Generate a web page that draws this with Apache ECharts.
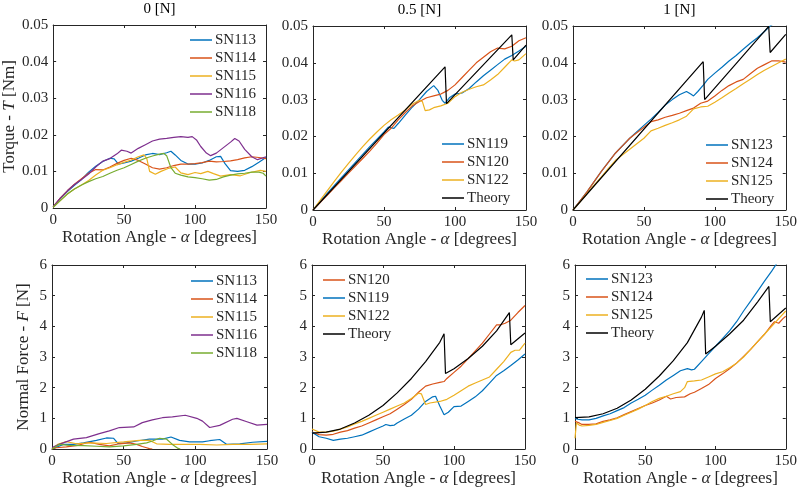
<!DOCTYPE html>
<html><head><meta charset="utf-8">
<script src="https://cdn.jsdelivr.net/npm/echarts@6/dist/echarts.min.js"></script>
<style>html,body{margin:0;padding:0;background:#fff}#c{width:800px;height:490px}</style>
</head><body><div id="c"></div><script>
// ---------- DATA ----------
const panelTitles = ['0 [N]', '0.5 [N]', '1 [N]'];
const xTicks = [0, 50, 100, 150];

// Panel 1: Torque, 0 N
const t0_113_x = [0,5,10,15,20,25,30,35,40,43,46,50,55,60,65,70,75,80,83,86,90,95,100,105,110,115,118,121,125,130,135,140,145,150];
const t0_113_y = [0.0003,0.0025,0.0045,0.0062,0.0078,0.0098,0.0114,0.0127,0.0136,0.0134,0.0120,0.0123,0.0128,0.0136,0.0145,0.0149,0.0146,0.0151,0.0155,0.0145,0.0130,0.0120,0.0120,0.0123,0.0130,0.0140,0.0141,0.0122,0.0102,0.0100,0.0103,0.0113,0.0125,0.0138];
const t0_114_x = [0,5,10,15,20,25,30,35,40,45,50,55,60,65,70,75,80,85,90,95,100,105,110,115,120,125,130,135,140,145,150];
const t0_114_y = [0.0003,0.0027,0.0047,0.0065,0.0080,0.0095,0.0105,0.0104,0.0112,0.0122,0.0130,0.0136,0.0130,0.0120,0.0110,0.0106,0.0110,0.0116,0.0120,0.0120,0.0121,0.0124,0.0128,0.0126,0.0127,0.0129,0.0132,0.0137,0.0140,0.0138,0.0135];
const t0_115_x = [0,5,10,15,20,25,30,35,40,45,50,55,60,64,66,68,72,76,81,86,90,95,100,104,109,113,118,125,132,139,146,150];
const t0_115_y = [0.0002,0.0020,0.0038,0.0052,0.0063,0.0075,0.0090,0.0103,0.0110,0.0118,0.0125,0.0131,0.0140,0.0145,0.0135,0.0100,0.0092,0.0100,0.0108,0.0112,0.0096,0.0091,0.0097,0.0094,0.0100,0.0094,0.0087,0.0091,0.0088,0.0097,0.0103,0.0100];
const t0_116_x = [0,5,10,15,20,25,30,35,40,45,48,52,55,60,65,70,75,80,85,90,95,98,101,104,108,111,115,120,125,128,131,135,140,144,150];
const t0_116_y = [0.0003,0.0027,0.0047,0.0064,0.0078,0.0093,0.0112,0.0128,0.0135,0.0148,0.0158,0.0155,0.0150,0.0163,0.0173,0.0183,0.0188,0.0190,0.0193,0.0195,0.0193,0.0195,0.0186,0.0168,0.0150,0.0143,0.0150,0.0165,0.0180,0.0190,0.0183,0.0160,0.0140,0.0132,0.0140];
const t0_118_x = [0,5,10,15,20,25,30,35,40,45,50,55,60,65,70,75,78,80,83,86,90,95,100,105,110,115,120,125,130,135,140,145,148,150];
const t0_118_y = [0.0002,0.0020,0.0038,0.0052,0.0063,0.0072,0.0080,0.0086,0.0095,0.0103,0.0110,0.0119,0.0128,0.0136,0.0142,0.0147,0.0149,0.0143,0.0110,0.0095,0.0090,0.0085,0.0083,0.0080,0.0076,0.0078,0.0085,0.0090,0.0093,0.0095,0.0098,0.0098,0.0095,0.0087];

// Panel 2: Torque, 0.5 N
const t05_119_x = [0,10,20,30,40,50,53,57,60,65,70,75,80,85,88,91,93,96,100,105,110,115,120,125,130,135,140,145,150];
const t05_119_y = [0,0.0045,0.0088,0.0130,0.0172,0.0212,0.0225,0.0222,0.0235,0.0258,0.0280,0.0300,0.0322,0.0338,0.0325,0.0298,0.0290,0.0305,0.0315,0.0318,0.0330,0.0348,0.0365,0.0380,0.0395,0.0410,0.0420,0.0432,0.0445];
const t05_120_x = [0,5,10,15,20,25,30,35,40,45,50,55,60,65,70,75,80,85,90,95,100,105,110,115,120,125,130,135,140,145,150];
const t05_120_y = [0,0.0020,0.0040,0.0060,0.0080,0.0100,0.0120,0.0140,0.0160,0.0182,0.0205,0.0222,0.0245,0.0265,0.0283,0.0295,0.0305,0.0310,0.0315,0.0325,0.0340,0.0360,0.0380,0.0400,0.0415,0.0430,0.0440,0.0438,0.0445,0.0460,0.0468];
const t05_122_x = [0,5,10,15,20,25,30,35,40,45,50,55,60,65,70,75,77,79,82,85,90,95,100,105,110,115,120,125,130,135,140,142,145,150];
const t05_122_y = [0,0.0026,0.0052,0.0078,0.0103,0.0127,0.0150,0.0172,0.0193,0.0212,0.0230,0.0245,0.0258,0.0272,0.0288,0.0298,0.0295,0.0270,0.0272,0.0278,0.0283,0.0290,0.0308,0.0320,0.0328,0.0335,0.0340,0.0353,0.0368,0.0388,0.0408,0.0405,0.0408,0.0425];
const t05_th_x = [0,93,94,140,141,150];
const t05_th_y = [0,0.0389,0.0289,0.0476,0.0408,0.0448];

// Panel 3: Torque, 1 N
const t1_123_x = [0,5,10,20,30,40,50,55,60,65,70,75,80,83,85,88,92,95,100,105,110,115,120,125,130,135,139,145,150];
const t1_123_y = [0,0.0025,0.0050,0.0105,0.0155,0.0195,0.0230,0.0247,0.0265,0.0285,0.0300,0.0313,0.0322,0.0315,0.0310,0.0322,0.0340,0.0355,0.0372,0.0388,0.0405,0.0420,0.0437,0.0453,0.0468,0.0485,0.0500,0.0515,0.0530];
const t1_124_x = [0,5,10,15,20,25,30,35,40,45,50,55,60,65,70,75,80,85,90,95,100,105,110,115,120,125,130,135,140,145,150];
const t1_124_y = [0,0.0025,0.0050,0.0078,0.0105,0.0130,0.0155,0.0175,0.0195,0.0210,0.0225,0.0240,0.0245,0.0252,0.0257,0.0263,0.0270,0.0277,0.0290,0.0296,0.0310,0.0325,0.0338,0.0348,0.0355,0.0370,0.0385,0.0395,0.0405,0.0405,0.0402];
const t1_125_x = [0,5,10,15,20,25,30,35,40,45,50,55,60,65,70,75,80,85,90,95,100,105,110,115,120,125,130,135,140,145,150];
const t1_125_y = [0,0.0022,0.0045,0.0068,0.0090,0.0113,0.0135,0.0150,0.0165,0.0180,0.0195,0.0215,0.0222,0.0230,0.0237,0.0245,0.0255,0.0275,0.0280,0.0282,0.0293,0.0305,0.0318,0.0330,0.0343,0.0355,0.0368,0.0380,0.0390,0.0400,0.0410];
const t1_th_x = [0,91.8,92.8,138,139,150];
const t1_th_y = [0,0.0403,0.0300,0.0499,0.0428,0.0477];

// Panel 4: Normal force, 0 N
const f0_113_x = [0,8,15,22,31,38,43,46,52,59,68,77,83,89,96,105,110,117,122,131,140,150];
const f0_113_y = [0.0,0.15,0.15,0.2,0.28,0.36,0.35,0.18,0.2,0.26,0.32,0.32,0.39,0.28,0.23,0.23,0.27,0.31,0.15,0.17,0.22,0.25];
const f0_114_x = [0,3,10,18,22,26,33,40,47,54,59,63,66,68,70];
const f0_114_y = [0,0.04,0.07,0.12,0.17,0.22,0.15,0.10,0.17,0.20,0.15,0.08,0.04,0.01,0];
const f0_115_x = [0,4,10,17,26,38,50,61,68,73,82,91,103,115,126,138,150];
const f0_115_y = [0,0.15,0.24,0.17,0.2,0.18,0.23,0.28,0.28,0.17,0.15,0.15,0.15,0.13,0.15,0.15,0.17];
const f0_116_x = [0,5,15,24,33,40,47,57,63,70,77,84,93,101,105,110,117,126,129,136,143,150];
const f0_116_y = [0.05,0.15,0.32,0.37,0.5,0.59,0.7,0.72,0.86,0.95,1.02,1.05,1.1,1.0,0.91,0.7,0.77,0.97,1.0,0.89,0.78,0.8];
const f0_118_x = [0,5,12,22,31,40,50,59,66,70,75,80,84,88,89.5];
const f0_118_y = [0,0.15,0.12,0.11,0.09,0.07,0.1,0.15,0.2,0.26,0.35,0.32,0.15,0.02,0];

// Panel 5: Normal force, 0.5 N
const f05_120_x = [0,5,10,15,20,25,30,35,40,45,50,55,60,65,70,75,80,85,90,93,95,100,105,110,115,120,125,130,133,136,140,145,150];
const f05_120_y = [0.55,0.47,0.45,0.48,0.55,0.6,0.68,0.75,0.85,0.95,1.05,1.15,1.3,1.45,1.62,1.85,2.05,2.12,2.17,2.2,2.3,2.5,2.7,2.95,3.2,3.45,3.75,4.05,4.05,4.1,4.2,4.45,4.68];
const f05_119_x = [0,5,10,15,20,25,30,35,40,45,50,52,55,58,60,65,70,75,80,85,87,90,93,96,100,105,110,115,120,125,130,135,140,145,150];
const f05_119_y = [0.55,0.4,0.35,0.28,0.32,0.35,0.4,0.45,0.55,0.65,0.75,0.8,0.76,0.78,0.85,0.98,1.1,1.3,1.55,1.7,1.72,1.4,1.12,1.2,1.38,1.4,1.55,1.7,1.9,2.15,2.4,2.55,2.72,2.9,3.1];
const f05_122_x = [0,5,10,15,20,25,30,35,40,45,50,55,60,65,70,75,77,80,83,90,95,100,105,110,115,120,125,130,135,140,143,146,150];
const f05_122_y = [0.65,0.55,0.55,0.58,0.65,0.72,0.82,0.9,1.0,1.1,1.2,1.3,1.4,1.5,1.65,1.82,1.8,1.45,1.5,1.55,1.62,1.75,1.9,2.05,2.15,2.25,2.35,2.6,2.85,3.15,3.22,3.22,3.45];
const f05_th_x = [0,10,20,30,40,50,60,70,80,90,93,94,100,110,120,130,139,140,150];
const f05_th_y = [0.52,0.55,0.65,0.85,1.1,1.42,1.83,2.3,2.85,3.48,3.76,2.46,2.62,2.95,3.35,3.85,4.45,3.4,3.78];

// Panel 6: Normal force, 1 N
const f1_123_x = [0,2,5,10,15,20,25,30,35,40,45,50,55,60,65,70,75,80,83,85,90,95,100,105,110,115,120,125,130,135,140,145,150];
const f1_123_y = [1.0,0.97,0.95,0.95,1.0,1.08,1.15,1.25,1.35,1.5,1.62,1.75,1.92,2.08,2.25,2.4,2.55,2.62,2.58,2.6,2.85,3.1,3.35,3.6,3.85,4.15,4.5,4.82,5.15,5.48,5.8,6.15,6.5];
const f1_124_x = [0,1,3,5,10,15,20,25,30,35,40,45,50,55,60,65,68,72,78,82,85,90,95,100,105,110,115,120,125,130,135,140,142,145,148,150];
const f1_124_y = [0.9,0.95,0.85,0.8,0.8,0.82,0.9,0.95,1.02,1.12,1.22,1.32,1.42,1.5,1.6,1.72,1.63,1.68,1.7,1.8,1.85,1.97,2.1,2.3,2.45,2.62,2.8,3.02,3.25,3.5,3.75,4.05,4.15,4.1,4.25,4.33];
const f1_125_x = [0,1,3,5,10,15,20,25,30,35,40,45,50,55,60,65,70,75,78,80,85,90,95,100,105,110,115,120,125,130,135,140,145,150];
const f1_125_y = [0.35,0.85,0.78,0.75,0.77,0.8,0.87,0.93,1.0,1.1,1.2,1.3,1.42,1.55,1.65,1.72,1.8,1.87,2.0,2.2,2.22,2.25,2.35,2.45,2.52,2.65,2.8,3.0,3.25,3.5,3.75,4.0,4.25,4.5];
const f1_th_x = [0,10,20,30,40,50,60,70,80,90,92,93,100,110,120,130,138,139,150];
const f1_th_y = [1.02,1.05,1.15,1.33,1.6,1.95,2.38,2.88,3.47,4.3,4.52,3.1,3.35,3.75,4.2,4.8,5.3,4.15,4.6];

// ---------- STYLE / LAYOUT ----------
const FONT = 'Liberation Serif';
const TXT = '#262626';
const COL = {blue:'#0072BD', orange:'#D95319', yellow:'#EDB120', purple:'#7E2F8E', green:'#77AC30', black:'#000000'};

const gridPos = [
  {left:51, top:25, width:215, height:183},
  {left:313, top:26, width:213, height:184},
  {left:573, top:26, width:213, height:184},
  {left:52, top:265, width:215, height:184},
  {left:312, top:265, width:213, height:184},
  {left:575, top:265, width:213, height:184}
];

const nameStyle = {color:TXT, fontFamily:FONT, fontSize:17,
  rich:{i:{fontStyle:'italic', fontFamily:FONT, fontSize:17, color:TXT}}};
const lineAx = {show:true, onZero:false, lineStyle:{color:TXT, width:1}};
const tickIn = {show:true, inside:true, length:3, lineStyle:{color:TXT, width:1}};

const xAxes = [], yAxes = [];
gridPos.forEach((g, gi) => {
  const top = gi < 3;
  xAxes.push({gridIndex:gi, type:'value', min:0, max:150, interval:50, position:'bottom',
    axisLine:lineAx, axisTick:tickIn, splitLine:{show:false},
    axisLabel:{color:TXT, fontFamily:FONT, fontSize:15, margin:5},
    name:'Rotation Angle - {i|α} [degrees]', nameLocation:'middle', nameGap:21, nameTextStyle:nameStyle});
  xAxes.push({gridIndex:gi, type:'value', min:0, max:150, interval:50, position:'top',
    axisLine:lineAx, axisTick:tickIn, splitLine:{show:false}, axisLabel:{show:false},
    name: top ? panelTitles[gi] : '', nameLocation:'middle', nameGap:8,
    nameTextStyle:{color:'#000', fontFamily:FONT, fontSize:15}});
  const yl = {gridIndex:gi, type:'value', min:0, max: top ? 0.05 : 6, interval: top ? 0.01 : 1, position:'left',
    axisLine:lineAx, axisTick:tickIn, splitLine:{show:false},
    axisLabel:{color:TXT, fontFamily:FONT, fontSize:15, margin:5}};
  if (gi === 0) { yl.name = 'Torque - {i|T} [Nm]'; yl.nameLocation='middle'; yl.nameGap=31; yl.nameTextStyle=nameStyle; }
  if (gi === 3) { yl.name = 'Normal Force - {i|F} [N]'; yl.nameLocation='middle'; yl.nameGap=20; yl.nameTextStyle=nameStyle; }
  yAxes.push(yl);
  yAxes.push({gridIndex:gi, type:'value', min:0, max: top ? 0.05 : 6, interval: top ? 0.01 : 1, position:'right',
    axisLine:lineAx, axisTick:tickIn, splitLine:{show:false}, axisLabel:{show:false}});
});

const series = [];
function addLine(gi, name, xs, ys, color) {
  series.push({type:'line', name, xAxisIndex:2*gi, yAxisIndex:2*gi,
    data: xs.map((x, i) => [x, ys[i]]), symbol:'none', showSymbol:false,
    lineStyle:{color, width:1.2}, itemStyle:{color}, animation:false, silent:true, clip:true});
}
addLine(0,'SN113',t0_113_x,t0_113_y,COL.blue);
addLine(0,'SN114',t0_114_x,t0_114_y,COL.orange);
addLine(0,'SN115',t0_115_x,t0_115_y,COL.yellow);
addLine(0,'SN116',t0_116_x,t0_116_y,COL.purple);
addLine(0,'SN118',t0_118_x,t0_118_y,COL.green);

addLine(1,'SN119',t05_119_x,t05_119_y,COL.blue);
addLine(1,'SN120',t05_120_x,t05_120_y,COL.orange);
addLine(1,'SN122',t05_122_x,t05_122_y,COL.yellow);
addLine(1,'Theory',t05_th_x,t05_th_y,COL.black);

addLine(2,'SN123',t1_123_x,t1_123_y,COL.blue);
addLine(2,'SN124',t1_124_x,t1_124_y,COL.orange);
addLine(2,'SN125',t1_125_x,t1_125_y,COL.yellow);
addLine(2,'Theory',t1_th_x,t1_th_y,COL.black);

addLine(3,'SN113',f0_113_x,f0_113_y,COL.blue);
addLine(3,'SN114',f0_114_x,f0_114_y,COL.orange);
addLine(3,'SN115',f0_115_x,f0_115_y,COL.yellow);
addLine(3,'SN116',f0_116_x,f0_116_y,COL.purple);
addLine(3,'SN118',f0_118_x,f0_118_y,COL.green);

addLine(4,'SN120',f05_120_x,f05_120_y,COL.orange);
addLine(4,'SN119',f05_119_x,f05_119_y,COL.blue);
addLine(4,'SN122',f05_122_x,f05_122_y,COL.yellow);
addLine(4,'Theory',f05_th_x,f05_th_y,COL.black);

addLine(5,'SN123',f1_123_x,f1_123_y,COL.blue);
addLine(5,'SN124',f1_124_x,f1_124_y,COL.orange);
addLine(5,'SN125',f1_125_x,f1_125_y,COL.yellow);
addLine(5,'Theory',f1_th_x,f1_th_y,COL.black);

function leg(left, top, names) {
  return {orient:'vertical', left, top, data:names, padding:0, itemGap:3,
    icon:'rect', itemWidth:22, itemHeight:1.5, selectedMode:false,
    textStyle:{color:TXT, fontFamily:FONT, fontSize:15, lineHeight:15, padding:[0,0,0,-2]}};
}
const legends = [
  leg(190, 32.5, ['SN113','SN114','SN115','SN116','SN118']),
  leg(442, 136.5, ['SN119','SN120','SN122','Theory']),
  leg(706, 137.5, ['SN123','SN124','SN125','Theory']),
  leg(191, 273.5, ['SN113','SN114','SN115','SN116','SN118']),
  leg(323, 272.5, ['SN120','SN119','SN122','Theory']),
  leg(586, 271.5, ['SN123','SN124','SN125','Theory'])
];

const chart = echarts.init(document.getElementById('c'), null, {renderer:'canvas'});
chart.setOption({
  animation:false,
  backgroundColor:'#ffffff',
  grid: gridPos.map(g => Object.assign({containLabel:false}, g)),
  xAxis: xAxes, yAxis: yAxes, legend: legends, series
});
</script></body></html>
